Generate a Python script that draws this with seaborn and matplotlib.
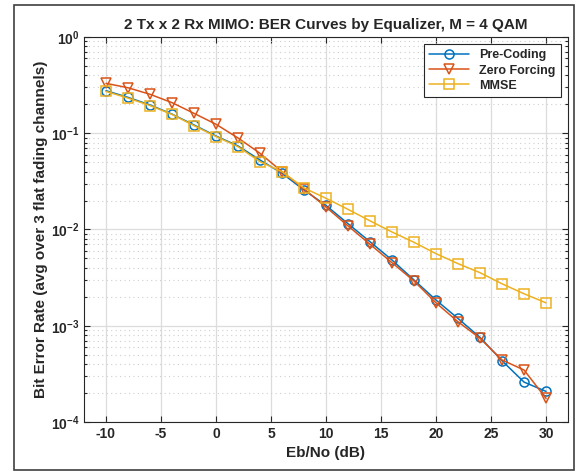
import matplotlib
matplotlib.use("Agg")

import numpy as np
import pandas as pd
import matplotlib.pyplot as plt
import seaborn as sns
from matplotlib.patches import Rectangle
from matplotlib.ticker import LogLocator, NullFormatter

# Eb/No points (dB)
ebno = [-10, -8, -6, -4, -2, 0, 2, 4, 6, 8, 10, 12, 14, 16, 18, 20, 22, 24, 26, 28, 30]

# BER values
ber_precoding = [0.277, 0.236, 0.197, 0.158, 0.122, 0.0936, 0.0738, 0.0527, 0.0384, 0.0257,
                 0.0178, 0.0115, 0.00746, 0.00482, 0.00299, 0.00185, 0.00119, 0.000758,
                 0.000433, 0.000260, 0.000208]
ber_zf = [0.330, 0.297, 0.254, 0.208, 0.161, 0.124, 0.0893, 0.0619, 0.0399, 0.0264,
          0.0171, 0.0109, 0.00702, 0.00452, 0.00292, 0.00173, 0.00110, 0.000741,
          0.000441, 0.000347, 0.000176]
ber_mmse = [0.272, 0.232, 0.194, 0.157, 0.120, 0.0925, 0.0725, 0.0506, 0.0399, 0.0270,
            0.0211, 0.0162, 0.0123, 0.00942, 0.00736, 0.00561, 0.00442, 0.00356,
            0.00273, 0.00215, 0.00173]

labels = ["Pre-Coding", "Zero Forcing", "MMSE"]

df = pd.DataFrame({
    "ebno": ebno * 3,
    "ber": ber_precoding + ber_zf + ber_mmse,
    "eq": [labels[0]] * len(ebno) + [labels[1]] * len(ebno) + [labels[2]] * len(ebno),
})

sns.set_style("ticks")
plt.rcParams["font.family"] = ["Liberation Sans", "DejaVu Sans"]
plt.rcParams["font.weight"] = "bold"
plt.rcParams["axes.unicode_minus"] = False

fig = plt.figure(figsize=(5.79, 4.72), dpi=100)
ax = fig.add_axes([84 / 579, 1 - 422 / 472, (568 - 84) / 579, (422 - 37) / 472])

palette = {labels[0]: "#0072BD", labels[1]: "#D95319", labels[2]: "#EDB120"}
markers = {labels[0]: "o", labels[1]: "v", labels[2]: "s"}

sns.lineplot(data=df, x="ebno", y="ber", hue="eq", style="eq", palette=palette,
             markers=markers, dashes=False, ax=ax, linewidth=1.1,
             markersize=6.5, markerfacecolor="none", markeredgewidth=1.1)
# open markers need the edge colour set per line
for line in ax.get_lines():
    line.set_markeredgecolor(line.get_color())
    line.set_markerfacecolor("none")

ax.set_yscale("log")
ax.set_xlim(-12, 32)
ax.set_ylim(1e-4, 1)
ax.set_xticks([-10, -5, 0, 5, 10, 15, 20, 25, 30])
ax.yaxis.set_minor_locator(LogLocator(base=10, subs=np.arange(2, 10)))
ax.yaxis.set_minor_formatter(NullFormatter())

ax.grid(True, which="major", color="#dcdcdc", linewidth=0.9)
ax.grid(True, which="minor", axis="y", color="#cfcfcf", linestyle=(0, (1, 3)), linewidth=0.8)
ax.set_axisbelow(True)

ax.tick_params(which="both", direction="in", top=True, right=True, labelsize=10,
               color="#262626", width=0.8)
ax.tick_params(which="major", length=4)
ax.tick_params(which="minor", length=2)
for sp in ax.spines.values():
    sp.set_color("#262626")
    sp.set_linewidth(0.8)
for t in ax.get_xticklabels() + ax.get_yticklabels():
    t.set_fontweight("bold")

ax.set_title("2 Tx x 2 Rx MIMO: BER Curves by Equalizer, M = 4 QAM",
             fontsize=11, fontweight="bold", pad=6)
ax.set_xlabel("Eb/No (dB)", fontsize=11, fontweight="bold", labelpad=4)
ax.set_ylabel("Bit Error Rate (avg over 3 flat fading channels)", fontsize=11,
              fontweight="bold", labelpad=2)

leg = ax.legend(loc="upper right", fontsize=9, frameon=True, fancybox=False,
                edgecolor="#262626", framealpha=1, borderaxespad=0.6,
                handlelength=3.2, labelspacing=0.25, borderpad=0.4)
leg.get_frame().set_linewidth(0.8)
for t in leg.get_texts():
    t.set_fontweight("bold")

# outer frame around the whole picture
fig.patches.append(Rectangle((14 / 579, 1 - 470 / 472), (574 - 14) / 579, (470 - 5) / 472,
                             transform=fig.transFigure, fill=False,
                             edgecolor="#404040", linewidth=1.2))

fig.savefig("out.png", dpi=100)
